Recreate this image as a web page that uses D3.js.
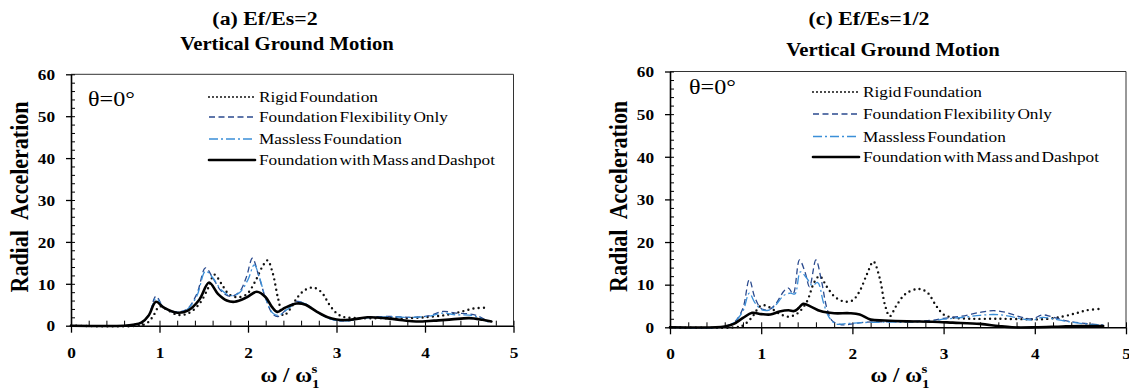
<!DOCTYPE html>
<html>
<head>
<meta charset="utf-8">
<script src="https://cdn.jsdelivr.net/npm/d3@7"></script>
<style>
  body { margin: 0; background: #fff; }
  svg { display: block; }
  svg text { font-family: "Liberation Serif", "Times New Roman", Times, serif !important; }
</style>
</head>
<body>
<script>
"use strict";

// ---- data ----
var seriesNames = ["Rigid Foundation", "Foundation Flexibility Only", "Massless Foundation", "Foundation with Mass and Dashpot"];
var xTicks = [0, 1, 2, 3, 4, 5];
var yTicks = [0, 10, 20, 30, 40, 50, 60];

// (a) Ef/Es=2
var rigidA = [[0,0],[0.75,0],[0.85,0.5],[0.92,2.0],[1.0,4.6],[1.08,3.9],[1.2,2.6],[1.32,2.9],[1.45,5.2],[1.55,9],[1.62,12.2],[1.7,10],[1.78,7.6],[1.88,6.8],[1.98,7.4],[2.08,10.5],[2.16,14],[2.22,15.6],[2.28,12.5],[2.34,6.5],[2.4,2.4],[2.47,3.8],[2.56,6.8],[2.65,8.6],[2.74,9.1],[2.83,8],[2.92,5],[3.0,3],[3.08,2.1],[3.25,1.8],[3.5,1.8],[3.8,1.8],[4.05,2.1],[4.25,2.6],[4.4,3.3],[4.55,4.1],[4.7,4.3]];
var flexA = [[0,0],[0.6,0],[0.7,0.2],[0.8,0.8],[0.88,2.6],[0.96,7.0],[1.04,4.6],[1.15,3.4],[1.3,3.8],[1.42,7.5],[1.52,13.8],[1.6,11.5],[1.7,8.2],[1.8,7],[1.9,8],[1.98,11.5],[2.05,16.1],[2.12,12],[2.2,6.5],[2.28,2.8],[2.34,2.2],[2.43,3.8],[2.55,5.8],[2.65,5.2],[2.8,3],[2.95,1.5],[3.1,1.1],[3.3,1.9],[3.6,2.2],[3.85,2.0],[4.05,2.4],[4.2,3.4],[4.35,3.0],[4.5,2.8],[4.6,2.3],[4.72,0.9]];
var masslessA = [[0,0],[0.6,0],[0.7,0.2],[0.8,0.8],[0.88,2.5],[0.96,6.5],[1.04,4.5],[1.15,3.3],[1.3,3.7],[1.42,7],[1.52,13],[1.6,11.5],[1.7,8.5],[1.8,7.2],[1.9,7.8],[2.0,11],[2.07,14.5],[2.13,11.5],[2.2,6.5],[2.28,3],[2.35,2.5],[2.45,4],[2.57,5.6],[2.67,5],[2.8,3],[2.95,1.5],[3.1,1.1],[3.3,1.8],[3.6,2.1],[3.85,2.0],[4.05,2.3],[4.2,3.0],[4.35,2.6],[4.5,2.5],[4.6,2.0],[4.72,0.8]];
var massA = [[0,0],[0.6,0],[0.7,0.2],[0.8,0.8],[0.88,2.5],[0.96,5.7],[1.05,4.3],[1.2,3.1],[1.32,3.6],[1.45,6.2],[1.56,10.3],[1.66,7.6],[1.76,6],[1.85,5.7],[1.98,6.7],[2.1,8.1],[2.2,6.8],[2.27,4.5],[2.33,3.3],[2.42,4.3],[2.55,5.3],[2.65,5],[2.78,3.3],[2.9,2],[3.0,1.5],[3.15,1.4],[3.35,2.0],[3.55,1.8],[3.75,1.3],[3.9,1.0],[4.1,1.2],[4.3,1.5],[4.5,1.8],[4.65,1.4],[4.75,1.0]];

// (c) Ef/Es=1/2
var rigidC = [[0,0],[0.72,0],[0.8,0.4],[0.9,2.4],[0.98,4.8],[1.03,5.2],[1.1,4.6],[1.2,3.2],[1.3,2.5],[1.4,3.3],[1.5,6],[1.58,10.5],[1.64,12],[1.72,9.5],[1.8,7.3],[1.9,6.1],[2.0,6.3],[2.08,8.5],[2.16,12.5],[2.23,15.4],[2.3,11.5],[2.36,5],[2.41,2.6],[2.48,5],[2.58,7.8],[2.72,9],[2.82,8.2],[2.92,5],[3.0,3],[3.1,2.3],[3.3,2],[3.6,2],[3.9,1.9],[4.1,1.9],[4.3,2.5],[4.45,3.3],[4.57,4],[4.7,4.3]];
var flexC = [[0,0],[0.55,0],[0.65,0.5],[0.72,1.5],[0.8,4.5],[0.87,11.2],[0.93,7],[1.0,4.4],[1.08,4.1],[1.15,5.2],[1.25,8.5],[1.3,9.2],[1.35,7.8],[1.42,15.8],[1.48,13],[1.53,9.5],[1.6,15.8],[1.66,11],[1.72,4.5],[1.78,1.5],[1.88,0.6],[2.0,0.8],[2.15,1.2],[2.35,1.3],[2.6,1.4],[2.85,1.6],[3.0,2.1],[3.2,2.6],[3.4,3.5],[3.55,3.9],[3.7,3.4],[3.85,2.4],[3.98,2.0],[4.08,2.9],[4.18,2.5],[4.35,1.5],[4.55,0.9],[4.75,0.5]];
var masslessC = [[0,0],[0.55,0],[0.65,0.5],[0.72,1.5],[0.8,3.8],[0.87,8],[0.93,5.8],[1.0,4.2],[1.08,4],[1.15,5],[1.25,7.5],[1.32,8],[1.37,7.8],[1.43,13],[1.5,11.5],[1.56,9.8],[1.62,10.5],[1.68,6],[1.74,2.5],[1.82,0.8],[1.95,0.9],[2.1,1.1],[2.35,1.2],[2.6,1.2],[2.85,1.4],[3.0,1.9],[3.2,2.3],[3.4,2.8],[3.55,3.0],[3.7,2.7],[3.85,2],[3.98,1.7],[4.08,2.3],[4.2,2],[4.4,1.2],[4.6,0.7],[4.75,0.5]];
var massC = [[0,0],[0.5,0],[0.6,0.2],[0.7,0.8],[0.8,2.2],[0.9,3.4],[1.0,3.1],[1.1,3.0],[1.2,3.7],[1.3,4.0],[1.36,3.8],[1.41,4.5],[1.46,5.5],[1.55,4.8],[1.65,3.8],[1.8,3.3],[1.97,3.3],[2.08,3.0],[2.2,1.8],[2.35,1.6],[2.6,1.4],[2.88,1.3],[3.1,1.1],[3.4,0.8],[3.6,0.3],[3.75,0],[4.0,0],[4.3,0.2],[4.5,0.3],[4.75,0.3]];

// ---- styles ----
var styles = [
  { color: "#111", width: 2.4, dash: "0 5.2", cap: "round" },
  { color: "#2a4a8e", width: 1.3, dash: "6 3.5", cap: "butt" },
  { color: "#3b8fd8", width: 1.3, dash: "9 3 2 3", cap: "butt" },
  { color: "#000", width: 2.6, dash: null, cap: "round" }
];
var sx = 1.15; // text in the original is stretched sideways

var width = 1129, height = 390;
var svg = d3.select("body").append("svg").attr("width", width).attr("height", height);

function stretched(g, x, y, str, size, weight, anchor) {
  return g.append("text")
    .attr("transform", "translate(" + x + "," + y + ") scale(" + sx + ",1)")
    .attr("text-anchor", anchor || "start")
    .attr("font-size", size).attr("font-weight", weight || "normal")
    .attr("fill", "#000").text(str);
}

function drawPanel(p) {
  var g = svg.append("g");
  var x = d3.scaleLinear().domain([0, 5]).range([p.left, p.right]);
  var y = d3.scaleLinear().domain([0, 60]).range([p.bottom, p.top]);

  // titles
  stretched(g, p.titleX, 25, p.title, 19, "bold", "middle");
  stretched(g, p.subX, p.subY, "Vertical Ground Motion", 18, "bold", "middle");

  // frame (top/right)
  g.append("path")
    .attr("d", "M" + p.left + "," + p.top + "H" + p.right + "V" + p.bottom)
    .attr("fill", "none").attr("stroke", "#333").attr("stroke-width", 1);

  // minor ticks (inward)
  g.append("g").attr("transform", "translate(" + p.left + ",0)")
    .call(d3.axisRight(y).tickValues(d3.range(0, 61, 2)).tickSize(4).tickFormat(""))
    .call(function (a) { a.select(".domain").remove(); a.selectAll("line").attr("stroke", "#000"); });
  g.append("g").attr("transform", "translate(0," + p.bottom + ")")
    .call(d3.axisTop(x).tickValues(d3.range(0, 5.01, 0.2)).tickSize(5).tickFormat(""))
    .call(function (a) { a.select(".domain").remove(); a.selectAll("line").attr("stroke", "#000"); });

  // major axes
  var ya = g.append("g").attr("transform", "translate(" + p.left + ",0)")
    .call(d3.axisLeft(y).tickValues(yTicks).tickSize(5).tickSizeOuter(0).tickFormat(d3.format("d")));
  ya.select(".domain").attr("stroke-width", 1.6);
  ya.selectAll("line").attr("stroke-width", 1.3);
  ya.selectAll("text")
    .attr("x", null).attr("dy", "0.35em")
    .attr("transform", "translate(-16,0) scale(" + sx + ",1)")
    .attr("font-size", 15).attr("font-weight", "bold").attr("fill", "#000");

  var xa = g.append("g").attr("transform", "translate(0," + p.bottom + ")")
    .call(d3.axisBottom(x).tickValues(xTicks).tickSize(7).tickSizeOuter(0).tickFormat(d3.format("d")));
  xa.select(".domain").attr("stroke-width", 1.6);
  xa.selectAll("line").attr("stroke-width", 1.3);
  xa.selectAll("text")
    .attr("y", null).attr("dy", null)
    .attr("transform", "translate(0,32) scale(" + sx + ",1)")
    .attr("font-size", 15).attr("font-weight", "bold").attr("fill", "#000");

  // axis titles
  g.append("text")
    .attr("transform", "translate(" + p.ylabX + "," + ((p.top + p.bottom) / 2 - 3) + ") rotate(-90) scale(1," + sx + ")")
    .attr("text-anchor", "middle").attr("font-size", 22).attr("font-weight", "bold")
    .attr("word-spacing", 6).text("Radial Acceleration");

  var xl = stretched(g, p.xlabX, 382, "", 20, "bold", "middle");
  xl.append("tspan").text("ω / ω");
  xl.append("tspan").attr("font-size", 13).attr("dy", 6).text("1");
  xl.append("tspan").attr("font-size", 13).attr("dx", -7).attr("dy", -15).text("s");

  // θ label
  stretched(g, p.thetaX, p.thetaY, "θ=0°", 21, "normal", "start");

  // curves
  var line = d3.line().x(function (d) { return x(d[0]); }).y(function (d) { return y(d[1]); })
    .curve(d3.curveCatmullRom.alpha(0.5));
  var plot = g.append("g");
  p.series.forEach(function (s, i) {
    var st = styles[i];
    plot.append("path").datum(s).attr("d", line)
      .attr("fill", "none").attr("stroke", st.color).attr("stroke-width", st.width)
      .attr("stroke-dasharray", st.dash).attr("stroke-linecap", st.cap)
      .attr("stroke-linejoin", "round");
  });

  // legend
  seriesNames.forEach(function (name, i) {
    var st = styles[i];
    var yy = p.legY[i];
    g.append("line")
      .attr("x1", p.legX).attr("x2", p.legX + 46).attr("y1", yy - 5).attr("y2", yy - 5)
      .attr("stroke", st.color).attr("stroke-width", i === 0 ? 2 : st.width)
      .attr("stroke-dasharray", i === 0 ? "0 4" : st.dash).attr("stroke-linecap", st.cap);
    stretched(g, p.legX + 50, yy, name, 15, "normal", "start").attr("word-spacing", -2);
  });
}

drawPanel({
  title: "(a) Ef/Es=2", titleX: 265, subX: 287, subY: 50,
  left: 71, right: 513.5, top: 74.3, bottom: 325.7,
  ylabX: 28, xlabX: 290, thetaX: 88, thetaY: 106,
  legX: 209, legY: [102, 122, 144, 165],
  series: [rigidA, flexA, masslessA, massA]
});

drawPanel({
  title: "(c) Ef/Es=1/2", titleX: 869, subX: 893, subY: 56,
  left: 670, right: 1126, top: 71.5, bottom: 327.3,
  ylabX: 627, xlabX: 900, thetaX: 689, thetaY: 94,
  legX: 813, legY: [97, 119, 141.5, 162],
  series: [rigidC, flexC, masslessC, massC]
});
</script>
</body>
</html>
